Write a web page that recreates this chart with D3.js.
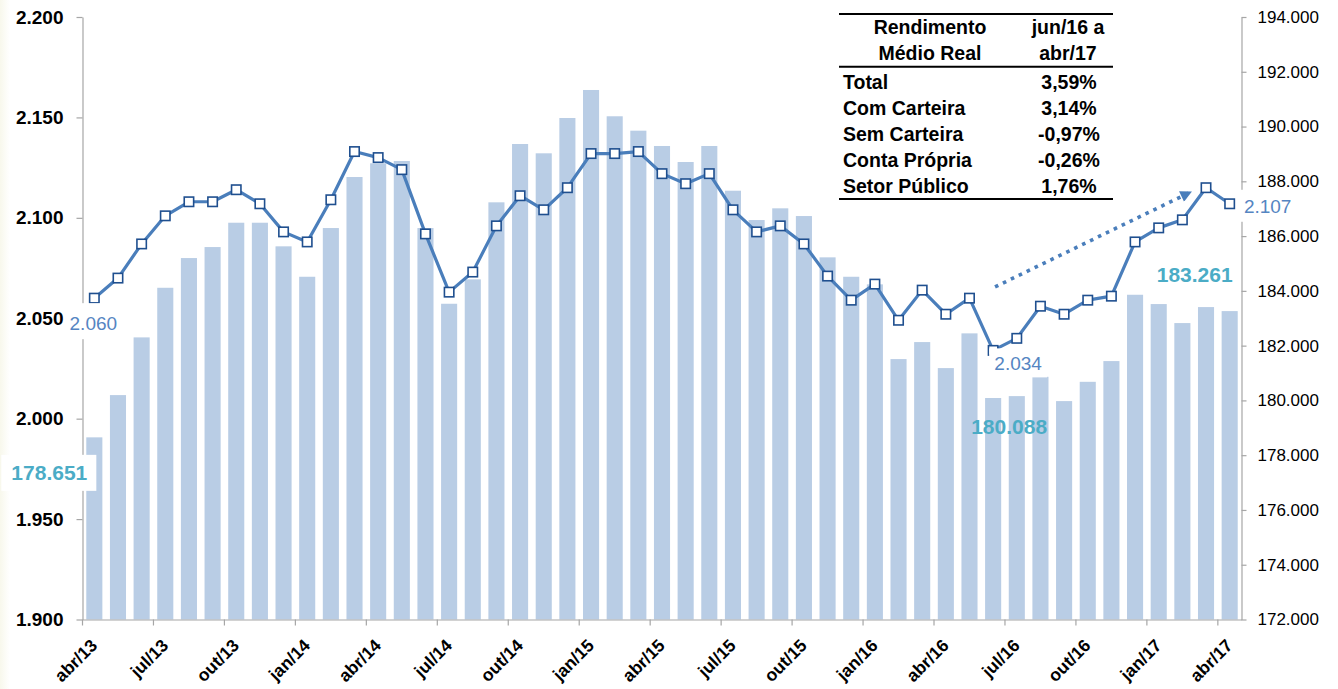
<!DOCTYPE html>
<html><head><meta charset="utf-8">
<script src="https://cdn.jsdelivr.net/npm/d3@7"></script>
<style>
body{margin:0;background:#fff}
svg{display:block}
text{font-family:"Liberation Sans",Arial,sans-serif}
</style>
</head><body>
<svg id="c" width="1338" height="689"></svg>
<script>
// ---------------- DATA ----------------
const months = ["abr/13","mai/13","jun/13","jul/13","ago/13","set/13","out/13","nov/13","dez/13",
  "jan/14","fev/14","mar/14","abr/14","mai/14","jun/14","jul/14","ago/14","set/14","out/14","nov/14","dez/14",
  "jan/15","fev/15","mar/15","abr/15","mai/15","jun/15","jul/15","ago/15","set/15","out/15","nov/15","dez/15",
  "jan/16","fev/16","mar/16","abr/16","mai/16","jun/16","jul/16","ago/16","set/16","out/16","nov/16","dez/16",
  "jan/17","fev/17","mar/17","abr/17"];
// Rendimento médio real (left axis, line)
const rendimento = [2060,2070,2087,2101,2108,2108,2114,2107,2093,2088,
  2109,2133,2130,2124,2092,2063,2073,2096,2111,2104,
  2115,2132,2132,2133,2122,2117,2122,2104,2093,2096,
  2087,2071,2059,2067,2049,2064,2052,2060,2034,2040,
  2056,2052,2059,2061,2088,2095,2099,2115,2107];
// Ocupados (right axis, bars)
const ocupados = [178651,180194,182301,184113,185198,185600,186488,186488,185626,184515,
  186294,188157,188658,188742,186294,183529,184420,187233,189363,189023,
  190312,191335,190375,189849,189290,188705,189290,187657,186586,187014,
  186732,185224,184515,184238,181509,182130,181180,182448,180088,180157,
  180862,179975,180679,181436,183858,183518,182824,183408,183261];
const leftTicks = [1900,1950,2000,2050,2100,2150,2200];
const rightTicks = [172000,174000,176000,178000,180000,182000,184000,186000,188000,190000,192000,194000];
const tableHead1 = ["Rendimento","Médio Real"];
const tableHead2 = ["jun/16 a","abr/17"];
const tableRows = ["Total","Com Carteira","Sem Carteira","Conta Própria","Setor Público"];
const tableValues = ["3,59%","3,14%","-0,97%","-0,26%","1,76%"];
// highlighted data labels (month indices)
const lineLabels = [0, 38, 48];
const barLabels = [0, 38, 48];
// trend arrow (month position, value on left axis)
const arrowFrom = {pos: 38.58, value: 2065.6};
const arrowTo = {pos: 46.86, value: 2112.9};

// ---------------- LAYOUT ----------------
const svg = d3.select("#c");
const L = 82.5, R = 1241.5, T = 17, B = 619.5;
const x = d3.scaleBand().domain(months).range([L, R]).paddingInner(0.32).paddingOuter(0.16);
const xPos = d3.scaleLinear().domain([0, months.length]).range([L, R]);
const step = x.step();
const cx = i => x(months[i]) + x.bandwidth() / 2;
const yL = d3.scaleLinear().domain([1900, 2200]).range([B, T]);
const yR = d3.scaleLinear().domain([172000, 194000]).range([B, T]);
const loc = d3.formatLocale({decimal: ",", thousands: ".", grouping: [3], currency: ["", ""]});
const fmt = loc.format(",d");

const LINE = "#4a7ebb", BAR = "#b9cde5", AX = "#a6a6a6", BLUE = "#5585c2", TEAL = "#4bacc6";

// faint left-edge tint
const defs = svg.append("defs");
const g1 = defs.append("linearGradient").attr("id", "edge").attr("x1", 0).attr("x2", 1);
g1.append("stop").attr("offset", 0).attr("stop-color", "#f8f8ec");
g1.append("stop").attr("offset", 1).attr("stop-color", "#ffffff");
svg.append("rect").attr("x", 0).attr("y", 0).attr("width", 10).attr("height", 689).attr("fill", "url(#edge)");

// arrow marker
defs.append("marker").attr("id", "ah").attr("viewBox", "0 0 10 10").attr("refX", 9).attr("refY", 5)
  .attr("markerWidth", 3.6).attr("markerHeight", 3.2).attr("markerUnits", "strokeWidth").attr("orient", "auto")
  .append("path").attr("d", "M0,0 L10,5 L0,10 Z").attr("fill", LINE);

// bars
svg.append("g").selectAll("rect").data(ocupados).join("rect")
  .attr("x", (d, i) => x(months[i]))
  .attr("width", x.bandwidth())
  .attr("y", d => yR(d))
  .attr("height", d => B - yR(d))
  .attr("fill", BAR);

// axes
function styleAxis(g) {
  g.select(".domain").attr("stroke", AX).attr("stroke-width", 1.2);
  g.selectAll(".tick line").attr("stroke", AX).attr("stroke-width", 1.2);
  g.selectAll(".tick text").attr("fill", "#000");
}
const gl = svg.append("g").attr("transform", `translate(${L},0)`)
  .call(d3.axisLeft(yL).tickValues(leftTicks).tickFormat(fmt).tickSize(6).tickPadding(13).tickSizeOuter(0))
  .call(styleAxis);
gl.selectAll(".tick text").attr("font-size", 19).attr("font-weight", "bold").attr("font-family", "Liberation Sans, Arial");

const gr = svg.append("g").attr("transform", `translate(${R},0)`)
  .call(d3.axisRight(yR).tickValues(rightTicks).tickFormat(fmt).tickSize(5).tickPadding(11).tickSizeOuter(0))
  .call(styleAxis);
gr.selectAll(".tick text").attr("font-size", 17).attr("font-family", "Liberation Sans, Arial");

const gb = svg.append("g").attr("transform", `translate(0,${B})`)
  .call(d3.axisBottom(x).tickValues(months.filter((d, i) => i % 3 === 0)).tickSize(6).tickSizeOuter(0))
  .call(styleAxis);
gb.selectAll(".tick line").attr("transform", `translate(${-step / 2},0)`);
gb.selectAll(".tick text").attr("y", 0).attr("dy", 0)
  .attr("text-anchor", "end")
  .attr("transform", "translate(4,27) rotate(-45)")
  .attr("font-size", 17.5).attr("font-weight", "bold").attr("font-family", "Liberation Sans, Arial");

// line
svg.append("path").datum(rendimento)
  .attr("d", d3.line().x((d, i) => cx(i)).y(d => yL(d)))
  .attr("fill", "none").attr("stroke", LINE).attr("stroke-width", 3.2).attr("stroke-linejoin", "round");
svg.append("g").selectAll("rect").data(rendimento).join("rect")
  .attr("x", (d, i) => cx(i) - 4.7).attr("y", d => yL(d) - 4.7)
  .attr("width", 9.4).attr("height", 9.4)
  .attr("fill", "#fff").attr("stroke", "#1f4f8f").attr("stroke-width", 1.6);

// data labels
function label(tx, ty, txt, color, size, weight, box) {
  if (box) {
    svg.append("rect").attr("x", box[0]).attr("y", box[1]).attr("width", box[2]).attr("height", box[3]).attr("fill", "#fff");
  }
  svg.append("text").attr("x", tx).attr("y", ty).attr("text-anchor", "middle")
    .attr("font-size", size).attr("font-weight", weight).attr("fill", color).text(txt);
}
{
  const i = lineLabels[0], px = cx(i) - 1, py = yL(rendimento[i]) + 32;
  label(px, py, fmt(rendimento[i]), BLUE, 19, "normal", [px - 29, py - 27, 58, 36]);
}
{
  const i = lineLabels[1], px = cx(i) + 25, py = yL(rendimento[i]) + 20;
  label(px, py, fmt(rendimento[i]), BLUE, 19, "normal", [px - 29, py - 22, 58, 29]);
}
{
  const i = lineLabels[2], px = cx(i) + 38, py = yL(rendimento[i]) + 9;
  label(px, py, fmt(rendimento[i]), BLUE, 19, "normal", [px - 28, py - 23, 56, 32]);
}
{
  const i = barLabels[0], px = cx(i) - 45, py = yR(ocupados[i]) + 42.5;
  label(px, py, fmt(ocupados[i]), TEAL, 21, "bold", [px - 48, py - 25, 95, 36]);
}
{
  const i = barLabels[1], px = cx(i) + 16, py = yR(ocupados[i]) + 36;
  label(px, py, fmt(ocupados[i]), TEAL, 21, "bold", null);
}
{
  const i = barLabels[2], px = cx(i) - 35, py = yR(ocupados[i]) - 29.5;
  label(px, py, fmt(ocupados[i]), TEAL, 21, "bold", null);
}

// dotted trend arrow
svg.append("line")
  .attr("x1", xPos(arrowFrom.pos)).attr("y1", yL(arrowFrom.value))
  .attr("x2", xPos(arrowTo.pos)).attr("y2", yL(arrowTo.value))
  .attr("stroke", LINE).attr("stroke-width", 3.6).attr("stroke-dasharray", "3.6 5.2")
  .attr("marker-end", "url(#ah)");

// table
const tg = svg.append("g").attr("font-weight", "bold").attr("font-size", 19.5).attr("fill", "#000");
const tx0 = 839, tx1 = 1113, colL = 843, colHead = 930, colV = 1069;
[14, 66.8, 199].forEach(yy => tg.append("line").attr("x1", tx0).attr("x2", tx1).attr("y1", yy).attr("y2", yy)
  .attr("stroke", "#000").attr("stroke-width", 2));
const headY = [33.5, 60];
tableHead1.forEach((t, k) => tg.append("text").attr("x", colHead).attr("y", headY[k]).attr("text-anchor", "middle").text(t));
tableHead2.forEach((t, k) => tg.append("text").attr("x", 1068).attr("y", headY[k]).attr("text-anchor", "middle").text(t));
const rowY = [88.5, 114.5, 140.5, 166.5, 192.5];
tableRows.forEach((t, k) => tg.append("text").attr("x", colL).attr("y", rowY[k]).text(t));
tableValues.forEach((t, k) => tg.append("text").attr("x", colV).attr("y", rowY[k]).attr("text-anchor", "middle").text(t));
</script>
</body></html>
